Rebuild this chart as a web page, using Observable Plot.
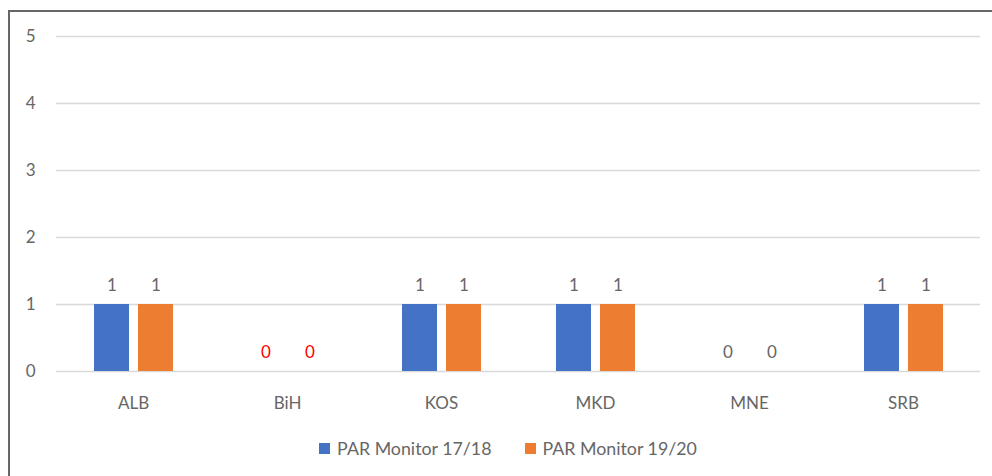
<!DOCTYPE html>
<html>
<head>
<meta charset="utf-8">
<script src="https://cdn.jsdelivr.net/npm/d3@7"></script>
<script src="https://cdn.jsdelivr.net/npm/@observablehq/plot@0.6"></script>
<style>
  html, body { margin: 0; padding: 0; background: #fff; width: 992px; height: 476px; overflow: hidden; }
  #frame { position: absolute; left: 8px; top: 10px; width: 1000px; height: 480px;
           border-left: 2px solid #666; border-top: 2px solid #666; }
  #chart { position: absolute; left: 0; top: 0; }
  #legend { position: absolute; left: 12px; top: 437px; width: 992px; display: flex; justify-content: center;
            font-family: Lato, "Open Sans", sans-serif; font-size: 17.8px; color: #666; gap: 33px; }
  .item { display: flex; align-items: center; }
  .sw { width: 11px; height: 11px; margin-right: 7px; display: inline-block; }
</style>
</head>
<body>
<div id="frame"></div>
<div id="chart"></div>
<div id="legend"></div>
<script>
const countries = ["ALB", "BiH", "KOS", "MKD", "MNE", "SRB"];
const seriesNames = ["PAR Monitor 17/18", "PAR Monitor 19/20"];
const values1718 = [1, 0, 1, 1, 0, 1];
const values1920 = [1, 0, 1, 1, 0, 1];
const yTicks = [0, 1, 2, 3, 4, 5];
const seriesColors = ["#4472C4", "#ED7D31"];
const redLabelCountries = ["BiH"];

const data = [];
countries.forEach((c, i) => {
  data.push({country: c, series: seriesNames[0], value: values1718[i]});
  data.push({country: c, series: seriesNames[1], value: values1920[i]});
});

const chart = Plot.plot({
  width: 992,
  height: 425,
  marginLeft: 55,
  marginRight: 12,
  marginTop: 36,
  marginBottom: 54,
  style: {fontFamily: "Lato, 'Open Sans', sans-serif", fontSize: "17px", color: "#666", background: "transparent"},
  fx: {domain: countries, padding: 0, label: null, axis: "bottom", tickSize: 0, tickPadding: 25},
  x: {domain: seriesNames, paddingInner: 0.205, paddingOuter: 0.852, axis: null},
  y: {domain: [0, 5], ticks: yTicks, label: null, axis: null},
  color: {domain: seriesNames, range: seriesColors},
  marks: [
    Plot.ruleY(yTicks, {stroke: "#d9d9d9", strokeWidth: 1.3}),
    Plot.axisY({ticks: yTicks, tickFormat: d3.format("d"), tickSize: 0, tickPadding: 21, label: null, facetAnchor: "left", fill: "#666"}),
    Plot.barY(data, {fx: "country", x: "series", y: "value", fill: "series"}),
    Plot.text(data, {fx: "country", x: "series", y: "value", text: d => String(d.value), dy: -19,
      fill: d => redLabelCountries.includes(d.country) ? "#FF0000" : "#666", fontSize: 17})
  ]
});
document.getElementById("chart").appendChild(chart);

const legend = document.getElementById("legend");
seriesNames.forEach((s, i) => {
  const item = document.createElement("div");
  item.className = "item";
  const sw = document.createElement("span");
  sw.className = "sw";
  sw.style.background = seriesColors[i];
  item.appendChild(sw);
  item.appendChild(document.createTextNode(s));
  legend.appendChild(item);
});
</script>
</body>
</html>
